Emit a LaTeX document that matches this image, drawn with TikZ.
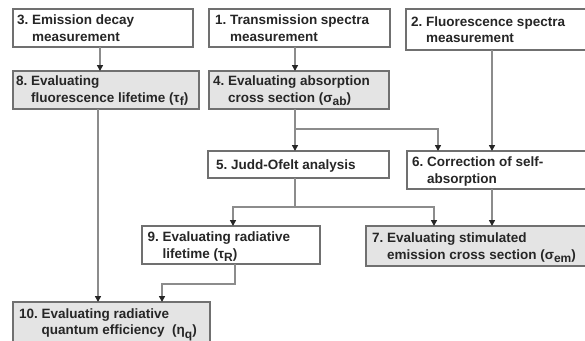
\documentclass[tikz,border=0pt]{standalone}
\usepackage{fontspec}
\setmainfont{Liberation Sans}
\usetikzlibrary{arrows.meta,calc}
\definecolor{boxline}{HTML}{707070}
\definecolor{connc}{HTML}{8C8C8C}
\definecolor{shade}{HTML}{E4E4E4}
\definecolor{tipc}{HTML}{262626}
\definecolor{txtc}{HTML}{262626}
\newcommand\boxtext[3]{\begin{tabular}[t]{@{}l@{\ }l@{}}#1&#2\\&#3\end{tabular}}
\newcommand\boxone[2]{\begin{tabular}[t]{@{}l@{\ }l@{}}#1&#2\end{tabular}}
\newcommand\sbs[1]{\raisebox{-3.5pt}{\fontsize{12}{13}\selectfont #1}}
\begin{document}
\begin{tikzpicture}[x=1pt,y=-1pt,
  font=\fontsize{13.5}{16.5}\selectfont\bfseries,
  stepbox/.style={draw=boxline, line width=1.2pt, fill=white, anchor=north west,
    inner sep=0pt, outer sep=0pt},
  greybox/.style={stepbox, fill=shade},
  txt/.style={anchor=base west, inner sep=0pt, text=txtc},
  conn/.style={draw=connc, line width=1.5pt, -{Triangle[length=6pt,width=6pt,color=tipc]}},
  plain/.style={draw=connc, line width=1.5pt}]
\useasboundingbox (0,0) rectangle (585,340);
\begin{scope}
\clip (0,0) rectangle (585,340);
\fill[white] (0,0) rectangle (585,340);
% boxes
\node[stepbox, minimum width=180pt, minimum height=38pt] (b3) at (13,9) {};
\node[stepbox, minimum width=181pt, minimum height=38pt] (b1) at (209,9) {};
\node[stepbox, minimum width=200pt, minimum height=41pt] (b2) at (406,9) {};
\node[greybox, minimum width=186pt, minimum height=38pt] (b8) at (13,71) {};
\node[greybox, minimum width=180pt, minimum height=38pt] (b4) at (209,71) {};
\node[stepbox, minimum width=181pt, minimum height=27pt] (b5) at (208,151) {};
\node[stepbox, minimum width=200pt, minimum height=38pt] (b6) at (407,151) {};
\node[stepbox, minimum width=178pt, minimum height=38pt] (b9) at (142,226) {};
\node[greybox, minimum width=240pt, minimum height=40pt] (b7) at (366,226) {};
\node[greybox, minimum width=197pt, minimum height=40pt] (b10) at (13,302) {};
% texts
\node[txt] (t3) at ($(b3.north west)+(4,15.5)$) {\boxtext{3.}{Emission decay}{measurement}};
\node[txt] (t1) at ($(b1.north west)+(6,15.5)$) {\boxtext{1.}{Transmission spectra}{measurement}};
\node[txt] (t2) at ($(b2.north west)+(5,17)$) {\boxtext{2.}{Fluorescence spectra}{measurement}};
\node[txt] (t8) at ($(b8.north west)+(3,14.5)$) {\boxtext{8.}{Evaluating}{fluorescence lifetime (τ\sbs{f})}};
\node[txt] (t4) at ($(b4.north west)+(4,14.5)$) {\boxtext{4.}{Evaluating absorption}{cross section (σ\sbs{ab})}};
\node[txt] (t5) at ($(b5.north west)+(8,18.5)$) {\boxone{5.}{Judd-Ofelt analysis}};
\node[txt] (t6) at ($(b6.north west)+(5,15.5)$) {\boxtext{6.}{Correction of self-}{absorption}};
\node[txt] (t9) at ($(b9.north west)+(5.5,15.5)$) {\boxtext{9.}{Evaluating radiative}{lifetime (τ\sbs{R})}};
\node[txt] (t7) at ($(b7.north west)+(6,16.5)$) {\boxtext{7.}{Evaluating stimulated}{emission cross section (σ\sbs{em})}};
\node[txt] (t10) at ($(b10.north west)+(6,16)$) {\boxtext{10.}{Evaluating radiative}{quantum efficiency \ (η\sbs{q})}};
% helper coordinates
\coordinate (x98) at (98,0);
\coordinate (x100) at (100,0);
\coordinate (x295) at (295,0);
\coordinate (x438) at (438,0);
\coordinate (x492) at (492,0);
\coordinate (x233) at (233,0);
\coordinate (x434) at (434,0);
\coordinate (x235) at (235,0);
\coordinate (J1) at (295,129);
\coordinate (J2) at (295,207);
\coordinate (J3) at (162,284);
% connectors
\draw[conn] (b3.south -| x100) -- (b8.north -| x100);
\draw[conn] (b1.south -| x295) -- (b4.north -| x295);
\draw[conn] (b4.south -| x295) -- (b5.north -| x295);
\draw[conn] (J1) -| (b6.north -| x438);
\draw[conn] (b2.south -| x492) -- (b6.north -| x492);
\draw[plain] (b5.south -| x295) -- (J2);
\draw[conn] (J2) -| (b9.north -| x233);
\draw[conn] (J2) -| (b7.north -| x434);
\draw[conn] (b6.south -| x492) -- (b7.north -| x492);
\draw[conn] (b8.south -| x98) -- (b10.north -| x98);
\draw[conn] (b9.south -| x235) |- (J3) -- (b10.north -| J3);
\end{scope}
\end{tikzpicture}
\end{document}
